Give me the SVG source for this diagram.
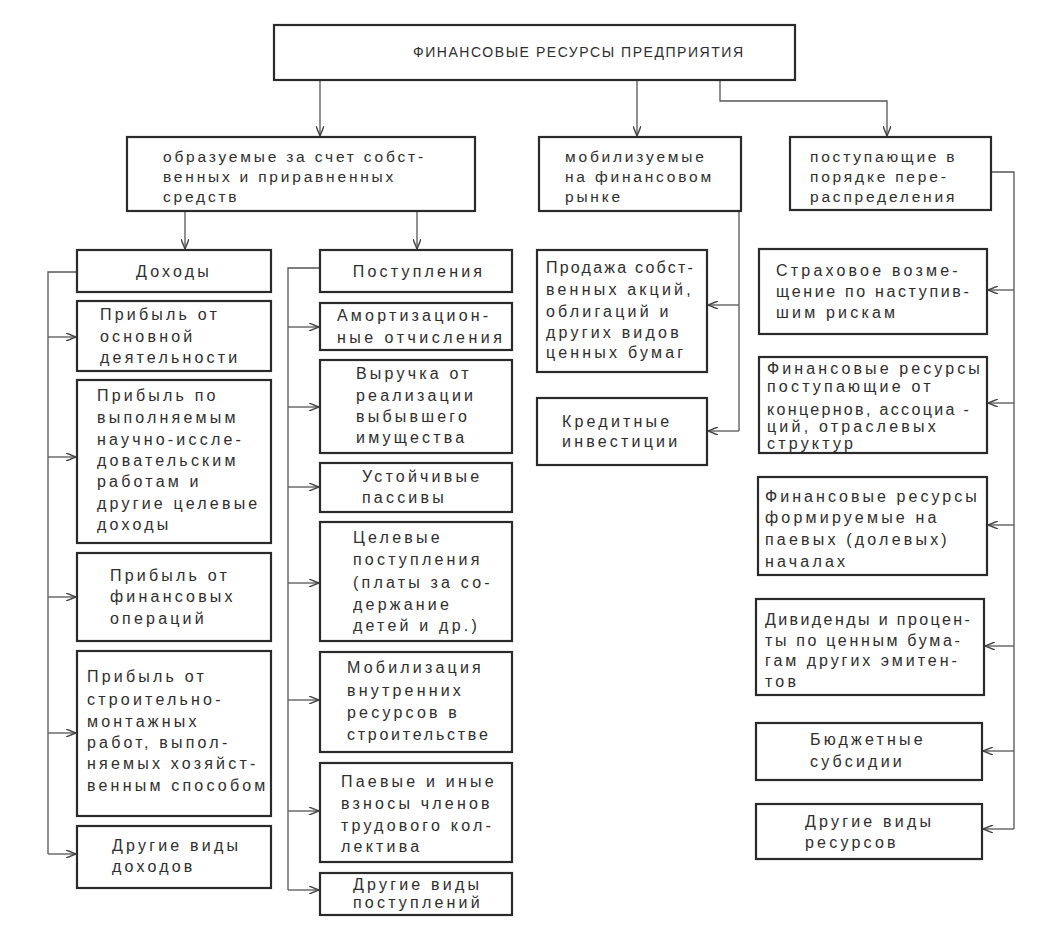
<svg xmlns="http://www.w3.org/2000/svg" width="1045" height="952" viewBox="0 0 1045 952">
<style>
.bx{fill:#fff;stroke:#2a2a2a;stroke-width:2.2}
.t{font-family:"Liberation Sans",Arial,sans-serif;font-size:16px;fill:#2e2e2e;letter-spacing:3.2px}
.t2{font-family:"Liberation Sans",Arial,sans-serif;font-size:15.5px;fill:#2e2e2e;letter-spacing:2.8px}
.h{font-family:"Liberation Sans",Arial,sans-serif;font-size:14px;fill:#2e2e2e}
.c{fill:none;stroke:#555;stroke-width:1.3}
.a{marker-end:url(#ar)}
</style>
<defs>
<marker id="ar" viewBox="0 0 10 8" refX="10" refY="4" markerWidth="10" markerHeight="8" markerUnits="userSpaceOnUse" orient="auto">
<path d="M0,0 L10,4 L0,8" fill="none" stroke="#444" stroke-width="1.4"/>
</marker>
</defs>
<rect width="1045" height="952" fill="#fff"/>

<g id="connectors">
<path class="c a" d="M320,80 V136"/>
<path class="c a" d="M637,80 V136"/>
<path class="c a" d="M720,80 V101 H887 V136"/>
<path class="c a" d="M185,211 V249"/>
<path class="c a" d="M417,211 V249"/>
<path class="c" d="M77,272 H48 V854"/>
<path class="c a" d="M48,337 H76"/>
<path class="c a" d="M48,457 H76"/>
<path class="c a" d="M48,597 H76"/>
<path class="c a" d="M48,733 H76"/>
<path class="c a" d="M48,854 H76"/>
<path class="c" d="M320,268 H288 V890"/>
<path class="c a" d="M288,327 H319"/>
<path class="c a" d="M288,407 H319"/>
<path class="c a" d="M288,487 H319"/>
<path class="c a" d="M288,583 H319"/>
<path class="c a" d="M288,700 H319"/>
<path class="c a" d="M288,811 H319"/>
<path class="c a" d="M288,890 H319"/>
<path class="c" d="M739,211 V431"/>
<path class="c a" d="M739,305 H708"/>
<path class="c a" d="M739,431 H708"/>
<path class="c" d="M991,172 H1014 V829"/>
<path class="c a" d="M1014,290 H988"/>
<path class="c a" d="M1014,403 H988"/>
<path class="c a" d="M1014,525 H988"/>
<path class="c a" d="M1014,646 H985"/>
<path class="c a" d="M1014,751 H983"/>
<path class="c a" d="M1014,829 H983"/>
</g>

<g id="root">
<rect class="bx" x="274" y="25" width="521" height="55"/>
<text class="h" x="413" y="57" textLength="330" lengthAdjust="spacing">ФИНАНСОВЫЕ РЕСУРСЫ  ПРЕДПРИЯТИЯ</text>
</g>

<g id="own">
<rect class="bx" x="127" y="137" width="348" height="74"/>
<text class="t2" x="163" y="162">образуемые за счет собст-</text>
<text class="t2" x="163" y="182">венных и приравненных</text>
<text class="t2" x="163" y="202">средств</text>
</g>
<g id="market">
<rect class="bx" x="539" y="137" width="202" height="74"/>
<text class="t2" x="565" y="162">мобилизуемые</text>
<text class="t2" x="565" y="182">на финансовом</text>
<text class="t2" x="565" y="202">рынке</text>
</g>
<g id="redistrib">
<rect class="bx" x="790" y="137" width="201" height="73"/>
<text class="t2" x="810" y="162">поступающие в</text>
<text class="t2" x="810" y="182">порядке пере-</text>
<text class="t2" x="810" y="202">распределения</text>
</g>

<g id="dohody">
<rect class="bx" x="77" y="250" width="194" height="42"/>
<text class="t" x="174" y="277" text-anchor="middle">Доходы</text>
</g>
<g id="d1">
<rect class="bx" x="77" y="301" width="194" height="70"/>
<text class="t" x="100" y="320">Прибыль от</text>
<text class="t" x="100" y="342">основной</text>
<text class="t" x="100" y="363">деятельности</text>
</g>
<g id="d2">
<rect class="bx" x="77" y="380" width="194" height="163"/>
<text class="t" x="97" y="401">Прибыль по</text>
<text class="t" x="97" y="423">выполняемым</text>
<text class="t" x="97" y="445">научно-иссле-</text>
<text class="t" x="97" y="466">довательским</text>
<text class="t" x="97" y="487">работам и</text>
<text class="t" x="97" y="509">другие целевые</text>
<text class="t" x="97" y="530">доходы</text>
</g>
<g id="d3">
<rect class="bx" x="77" y="553" width="194" height="88"/>
<text class="t" x="110" y="581">Прибыль от</text>
<text class="t" x="110" y="602">финансовых</text>
<text class="t" x="110" y="624">операций</text>
</g>
<g id="d4">
<rect class="bx" x="77" y="651" width="194" height="165"/>
<text class="t" x="87" y="682">Прибыль от</text>
<text class="t" x="87" y="705">строительно-</text>
<text class="t" x="87" y="727">монтажных</text>
<text class="t" x="87" y="748">работ, выпол-</text>
<text class="t" x="87" y="769">няемых хозяйст-</text>
<text class="t" x="87" y="791">венным способом</text>
</g>
<g id="d5">
<rect class="bx" x="77" y="826" width="194" height="62"/>
<text class="t" x="112" y="851">Другие виды</text>
<text class="t" x="112" y="872">доходов</text>
</g>

<g id="postupl">
<rect class="bx" x="320" y="250" width="192" height="42"/>
<text class="t" x="419" y="277" text-anchor="middle">Поступления</text>
</g>
<g id="p1">
<rect class="bx" x="320" y="303" width="192" height="47"/>
<text class="t" x="337" y="321">Амортизацион-</text>
<text class="t" x="337" y="343" textLength="168" lengthAdjust="spacing">ные отчисления</text>
</g>
<g id="p2">
<rect class="bx" x="320" y="360" width="192" height="93"/>
<text class="t" x="356" y="379">Выручка от</text>
<text class="t" x="356" y="401">реализации</text>
<text class="t" x="356" y="422">выбывшего</text>
<text class="t" x="356" y="443">имущества</text>
</g>
<g id="p3">
<rect class="bx" x="320" y="463" width="192" height="49"/>
<text class="t" x="362" y="482">Устойчивые</text>
<text class="t" x="362" y="503">пассивы</text>
</g>
<g id="p4">
<rect class="bx" x="320" y="522" width="192" height="119"/>
<text class="t" x="353" y="543">Целевые</text>
<text class="t" x="353" y="565">поступления</text>
<text class="t" x="353" y="588">(платы за со-</text>
<text class="t" x="353" y="610">держание</text>
<text class="t" x="353" y="631">детей и др.)</text>
</g>
<g id="p5">
<rect class="bx" x="320" y="652" width="192" height="100"/>
<text class="t" x="347" y="673">Мобилизация</text>
<text class="t" x="347" y="696">внутренних</text>
<text class="t" x="347" y="718">ресурсов в</text>
<text class="t" x="347" y="740" textLength="144" lengthAdjust="spacing">строительстве</text>
</g>
<g id="p6">
<rect class="bx" x="320" y="763" width="192" height="99"/>
<text class="t" x="341" y="787">Паевые и иные</text>
<text class="t" x="341" y="809">взносы членов</text>
<text class="t" x="341" y="831">трудового кол-</text>
<text class="t" x="341" y="852">лектива</text>
</g>
<g id="p7">
<rect class="bx" x="320" y="873" width="192" height="42"/>
<text class="t" x="353" y="890">Другие виды</text>
<text class="t" x="353" y="908">поступлений</text>
</g>

<g id="m1">
<rect class="bx" x="537" y="250" width="170" height="122"/>
<text class="t" x="546" y="273" textLength="150" lengthAdjust="spacing">Продажа собст-</text>
<text class="t" x="546" y="295">венных акций,</text>
<text class="t" x="546" y="317">облигаций и</text>
<text class="t" x="546" y="338">других видов</text>
<text class="t" x="546" y="358">ценных бумаг</text>
</g>
<g id="m2">
<rect class="bx" x="537" y="398" width="170" height="67"/>
<text class="t" x="562" y="427">Кредитные</text>
<text class="t" x="562" y="447">инвестиции</text>
</g>

<g id="r1">
<rect class="bx" x="759" y="249" width="228" height="85"/>
<text class="t" x="776" y="276">Страховое возме-</text>
<text class="t" x="776" y="297" textLength="196" lengthAdjust="spacing">щение по наступив-</text>
<text class="t" x="776" y="318">шим рискам</text>
</g>
<g id="r2">
<rect class="bx" x="759" y="357" width="228" height="96"/>
<text class="t" x="767" y="374" textLength="216" lengthAdjust="spacing">Финансовые ресурсы</text>
<text class="t" x="767" y="392">поступающие от</text>
<text class="t" x="767" y="415" textLength="205" lengthAdjust="spacing">концернов, ассоциа -</text>
<text class="t" x="767" y="432">ций, отраслевых</text>
<text class="t" x="767" y="449">структур</text>
</g>
<g id="r3">
<rect class="bx" x="758" y="477" width="229" height="98"/>
<text class="t" x="765" y="502" textLength="215" lengthAdjust="spacing">Финансовые ресурсы</text>
<text class="t" x="765" y="523">формируемые на</text>
<text class="t" x="765" y="545">паевых (долевых)</text>
<text class="t" x="765" y="567">началах</text>
</g>
<g id="r4">
<rect class="bx" x="756" y="599" width="228" height="96"/>
<text class="t" x="765" y="625" textLength="208" lengthAdjust="spacing">Дивиденды и процен-</text>
<text class="t" x="765" y="646" textLength="198" lengthAdjust="spacing">ты по ценным бума-</text>
<text class="t" x="765" y="666" textLength="195" lengthAdjust="spacing">гам других эмитен-</text>
<text class="t" x="765" y="687">тов</text>
</g>
<g id="r5">
<rect class="bx" x="756" y="723" width="226" height="57"/>
<text class="t" x="810" y="745">Бюджетные</text>
<text class="t" x="810" y="767">субсидии</text>
</g>
<g id="r6">
<rect class="bx" x="756" y="804" width="226" height="55"/>
<text class="t" x="805" y="827">Другие виды</text>
<text class="t" x="805" y="848">ресурсов</text>
</g>
</svg>
